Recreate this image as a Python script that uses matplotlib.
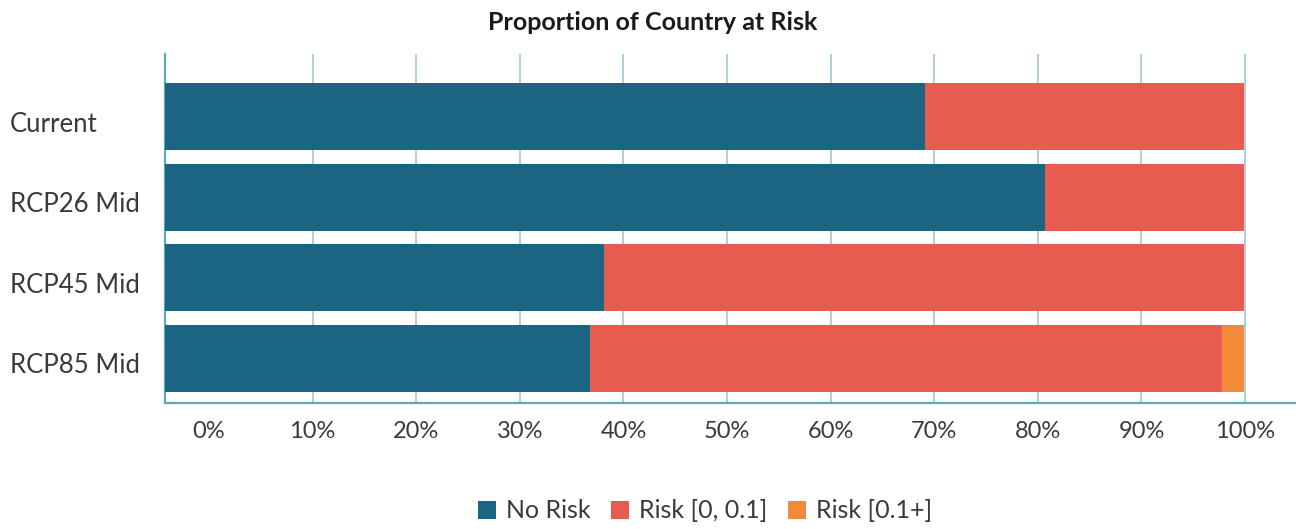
import matplotlib
matplotlib.use("Agg")
import matplotlib.pyplot as plt
import matplotlib.transforms as mtransforms
import numpy as np

# ---- data ----
categories = ["Current", "RCP26 Mid", "RCP45 Mid", "RCP85 Mid"]
no_risk = [0.704, 0.815, 0.407, 0.394]
risk_low = [0.296, 0.185, 0.593, 0.585]
risk_high = [0.000, 0.000, 0.000, 0.021]
series_names = ["No Risk", "Risk [0, 0.1]", "Risk [0.1+]"]
tick_labels = ["0%", "10%", "20%", "30%", "40%", "50%", "60%", "70%", "80%", "90%", "100%"]

colors = ["#1b6482", "#e85b4f", "#f38a3a"]
spine_color = "#5aaab7"
grid_color = "#a9cdd4"
text_color = "#3a3a3a"

plt.rcParams['font.family'] = ['Lato', 'DejaVu Sans']

fig = plt.figure(figsize=(12.96, 5.29), dpi=100)
ax = fig.add_axes([165/1296, 1 - 403/529, 1 - 165/1296, (403 - 54)/529])

y = np.arange(len(categories))[::-1]
h = 0.83
left = np.zeros(len(categories))
for vals, c, name in zip([no_risk, risk_low, risk_high], colors, series_names):
    ax.barh(y, vals, left=left, height=h, color=c, label=name, zorder=3)
    left = left + np.array(vals)

ax.set_xlim(0, 1.048)
ax.set_ylim(-0.553, 3.78)

# tick positions reproduce the reference's offset scale
tick_pos = [0.0408 + 0.0960 * k for k in range(len(tick_labels))]
ax.set_xticks(tick_pos)
ax.set_xticklabels(tick_labels, fontsize=17, color=text_color)
ax.tick_params(axis='x', length=0, pad=13)
ax.xaxis.grid(True, color=grid_color, linewidth=1.3, zorder=0)
ax.get_xgridlines()[0].set_visible(False)
ax.set_axisbelow(True)

ax.set_yticks(y)
ax.set_yticklabels(categories, fontsize=18.5, color=text_color, ha='left')
ax.tick_params(axis='y', length=0, pad=(165 - 10) * 0.72)
shift = mtransforms.ScaledTranslation(0, -5/100, fig.dpi_scale_trans)
for lbl in ax.get_yticklabels():
    lbl.set_transform(lbl.get_transform() + shift)

for s in ["top", "right"]:
    ax.spines[s].set_visible(False)
for s in ["left", "bottom"]:
    ax.spines[s].set_color(spine_color)
    ax.spines[s].set_linewidth(1.6)

fig.text(653/1296, 1 - 23/529, "Proportion of Country at Risk", ha='center', va='center',
         fontsize=18, fontweight='bold', color="#1a1a1a")

fig.legend(loc='center', bbox_to_anchor=(705/1296, 1 - 511/529), ncol=3, frameon=False,
           fontsize=18, handlelength=0.7, handleheight=0.7, handletextpad=0.4,
           columnspacing=0.85, labelcolor=text_color)

fig.savefig("out.png", dpi=100)
